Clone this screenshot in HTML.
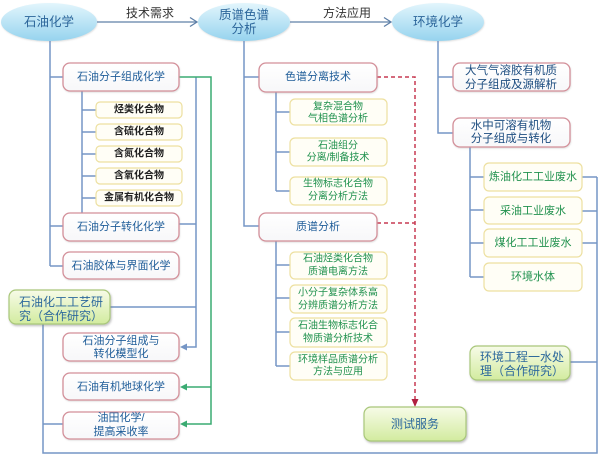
<!DOCTYPE html>
<html>
<head>
<meta charset="utf-8">
<style>
html,body{margin:0;padding:0;background:#fff;}
svg{display:block;}
text{font-family:"Liberation Sans","Noto Sans CJK SC",sans-serif;}
</style>
</head>
<body>
<svg width="600" height="457" viewBox="0 0 600 457" xmlns="http://www.w3.org/2000/svg">
<defs>
 <linearGradient id="ell" x1="0" y1="0" x2="0" y2="1">
  <stop offset="0" stop-color="#e2f5fc"/><stop offset="1" stop-color="#96d3ee"/>
 </linearGradient>
 <linearGradient id="grn" x1="0" y1="0" x2="0" y2="1">
  <stop offset="0" stop-color="#f7fbe8"/><stop offset="1" stop-color="#d2eb9f"/>
 </linearGradient>
 <linearGradient id="wht" x1="0" y1="0" x2="0" y2="1">
  <stop offset="0" stop-color="#ffffff"/><stop offset="1" stop-color="#f7f7f9"/>
 </linearGradient>
 <filter id="sh" x="-10%" y="-10%" width="130%" height="140%">
  <feDropShadow dx="1" dy="1.5" stdDeviation="1" flood-color="#777" flood-opacity="0.45"/>
 </filter>
 <filter id="sh2" x="-10%" y="-10%" width="130%" height="140%">
  <feDropShadow dx="0.5" dy="1" stdDeviation="0.8" flood-color="#999" flood-opacity="0.3"/>
 </filter>
</defs>

<!-- top ellipses -->
<ellipse cx="49" cy="22" rx="48" ry="19" fill="url(#ell)" filter="url(#sh2)"/>
<ellipse cx="244" cy="22" rx="46" ry="19" fill="url(#ell)" filter="url(#sh2)"/>
<ellipse cx="438" cy="22" rx="46" ry="19" fill="url(#ell)" filter="url(#sh2)"/>
<text x="49" y="22" font-size="12.5" fill="#2b659a" text-anchor="middle" dominant-baseline="central">石油化学</text>
<text x="244" y="15" font-size="12.5" fill="#2b659a" text-anchor="middle" dominant-baseline="central">质谱色谱</text>
<text x="244" y="29" font-size="12.5" fill="#2b659a" text-anchor="middle" dominant-baseline="central">分析</text>
<text x="438" y="22" font-size="12.5" fill="#2b659a" text-anchor="middle" dominant-baseline="central">环境化学</text>

<!-- top arrows -->
<g stroke="#5f80a8" stroke-width="1.3" fill="none">
 <path d="M97 22 H197"/><path d="M190 17.5 L197 22 L190 26.5"/>
 <path d="M290 22 H391"/><path d="M384 17.5 L391 22 L384 26.5"/>
</g>
<text x="150" y="13" font-size="12" fill="#333" text-anchor="middle" dominant-baseline="central">技术需求</text>
<text x="347" y="13" font-size="12" fill="#333" text-anchor="middle" dominant-baseline="central">方法应用</text>

<!-- blue connectors -->
<g stroke="#7595c5" stroke-width="1.5" fill="none">
 <path d="M50 41 V266"/>
 <path d="M50 77 H63"/><path d="M50 226 H63"/><path d="M50 266 H63"/>
 <path d="M82 91 V213"/>
 <path d="M82 110 H96"/><path d="M82 132 H96"/><path d="M82 154 H96"/><path d="M82 176 H96"/><path d="M82 198 H96"/>
 <path d="M196 77 V347 H184"/>
 <path d="M179 224 H196"/>
 <path d="M110 307 H196"/>
 <path d="M43 324 V453 H597 V177"/>
 <path d="M43 424 H63"/>
 <path d="M582 177 H597"/><path d="M582 211 H597"/><path d="M582 243 H597"/><path d="M570 362 H597"/>
 <path d="M244 41 V226 H259"/><path d="M244 77 H259"/>
 <path d="M276 92 V191"/>
 <path d="M276 112 H290"/><path d="M276 152 H290"/><path d="M276 191 H290"/>
 <path d="M276 241 V366"/>
 <path d="M276 265 H290"/><path d="M276 298 H290"/><path d="M276 332 H290"/><path d="M276 366 H290"/>
 <path d="M438 41 V133 H453"/><path d="M438 77 H453"/>
 <path d="M470 147 V277"/>
 <path d="M470 177 H484"/><path d="M470 210 H484"/><path d="M470 243 H484"/><path d="M470 277 H484"/>
</g>
<polygon points="180,347 187,343.5 187,350.5" fill="#7595c5"/>

<!-- green connectors -->
<g stroke="#3aab72" stroke-width="1.5" fill="none">
 <path d="M179 77 H211 V424 H184"/>
 <path d="M211 387 H184"/>
</g>
<polygon points="180,387 187,383.5 187,390.5" fill="#3aab72"/>
<polygon points="180,424 187,420.5 187,427.5" fill="#3aab72"/>

<!-- red dashed -->
<g stroke="#c73a52" stroke-width="1.5" fill="none" stroke-dasharray="4 3">
 <path d="M377 77 H415 V400"/>
 <path d="M377 223 H415"/>
</g>
<polygon points="415,407 411.5,399 418.5,399" fill="#b02040"/>

<!-- red-bordered boxes -->
<g fill="url(#wht)" stroke="#d38f99" stroke-width="1.3" filter="url(#sh2)">
 <rect x="63" y="63" width="116" height="28" rx="7"/>
 <rect x="63" y="213" width="116" height="28" rx="7"/>
 <rect x="63" y="252" width="116" height="27" rx="7"/>
 <rect x="63" y="333" width="116" height="28" rx="7"/>
 <rect x="63" y="373" width="116" height="27" rx="7"/>
 <rect x="63" y="412" width="116" height="27" rx="7"/>
 <rect x="259" y="63" width="118" height="29" rx="7"/>
 <rect x="259" y="213" width="118" height="28" rx="7"/>
 <rect x="453" y="63" width="117" height="28" rx="7"/>
 <rect x="453" y="118" width="117" height="29" rx="7"/>
</g>
<g font-size="11" fill="#1f5d99" text-anchor="middle" dominant-baseline="central">
 <text x="121" y="77">石油分子组成化学</text>
 <text x="121" y="227">石油分子转化化学</text>
 <text x="121" y="266">石油胶体与界面化学</text>
 <text x="121" y="341">石油分子组成与</text>
 <text x="121" y="354">转化模型化</text>
 <text x="121" y="387">石油有机地球化学</text>
 <text x="121" y="418">油田化学/</text>
 <text x="121" y="432">提高采收率</text>
 <text x="318" y="77">色谱分离技术</text>
 <text x="318" y="227">质谱分析</text>
</g>
<g font-size="11.5" fill="#1d4d80" text-anchor="middle" dominant-baseline="central">
 <text x="511" y="71">大气气溶胶有机质</text>
 <text x="511" y="85">分子组成及源解析</text>
 <text x="511" y="126">水中可溶有机物</text>
 <text x="511" y="139">分子组成与转化</text>
</g>

<!-- yellow boxes -->
<g fill="#fffef6" stroke="#ede0a0" stroke-width="1.2">
 <rect x="96" y="102" width="86" height="16" rx="4"/>
 <rect x="96" y="124" width="86" height="16" rx="4"/>
 <rect x="96" y="146" width="86" height="16" rx="4"/>
 <rect x="96" y="168" width="86" height="16" rx="4"/>
 <rect x="96" y="190" width="86" height="16" rx="4"/>
 <rect x="290" y="99" width="97" height="26" rx="5"/>
 <rect x="290" y="138" width="97" height="28" rx="5"/>
 <rect x="290" y="177" width="97" height="28" rx="5"/>
 <rect x="290" y="252" width="97" height="27" rx="5"/>
 <rect x="290" y="285" width="97" height="28" rx="5"/>
 <rect x="290" y="318" width="97" height="29" rx="5"/>
 <rect x="290" y="352" width="97" height="28" rx="5"/>
 <rect x="484" y="163" width="98" height="28" rx="5"/>
 <rect x="484" y="197" width="98" height="27" rx="5"/>
 <rect x="484" y="229" width="98" height="28" rx="5"/>
 <rect x="484" y="263" width="98" height="28" rx="5"/>
</g>
<g font-size="10" font-weight="bold" fill="#222" text-anchor="middle" dominant-baseline="central">
 <text x="139" y="110">烃类化合物</text>
 <text x="139" y="132">含硫化合物</text>
 <text x="139" y="154">含氮化合物</text>
 <text x="139" y="176">含氧化合物</text>
 <text x="139" y="198">金属有机化合物</text>
</g>
<g font-size="10" fill="#22924f" text-anchor="middle" dominant-baseline="central">
 <text x="338" y="107">复杂混合物</text>
 <text x="338" y="119">气相色谱分析</text>
 <text x="338" y="146">石油组分</text>
 <text x="338" y="158">分离/制备技术</text>
 <text x="338" y="184">生物标志化合物</text>
 <text x="338" y="197">分离分析方法</text>
 <text x="338" y="259">石油烃类化合物</text>
 <text x="338" y="272">质谱电离方法</text>
 <text x="338" y="293">小分子复杂体系高</text>
 <text x="338" y="306">分辨质谱分析方法</text>
 <text x="338" y="326">石油生物标志化合</text>
 <text x="338" y="339">物质谱分析技术</text>
 <text x="338" y="360">环境样品质谱分析</text>
 <text x="338" y="372">方法与应用</text>
</g>
<g font-size="11" fill="#22924f" text-anchor="middle" dominant-baseline="central">
 <text x="533" y="177">炼油化工工业废水</text>
 <text x="533" y="211">采油工业废水</text>
 <text x="533" y="243">煤化工工业废水</text>
 <text x="533" y="277">环境水体</text>
</g>

<!-- green boxes -->
<g fill="url(#grn)" stroke="#a9c77a" stroke-width="1.2" filter="url(#sh)">
 <rect x="9" y="290" width="101" height="34" rx="7"/>
 <rect x="470" y="346" width="100" height="34" rx="7"/>
 <rect x="364" y="407" width="102" height="34" rx="7"/>
</g>
<g font-size="12" fill="#2c689c" dominant-baseline="central">
 <text x="19" y="302">石油化工工艺研</text>
 <text x="19" y="316">究（合作研究）</text>
 <text x="480" y="357">环境工程一水处</text>
 <text x="480" y="371">理（合作研究）</text>
 <text x="415" y="424" text-anchor="middle">测试服务</text>
</g>
</svg>
</body>
</html>
